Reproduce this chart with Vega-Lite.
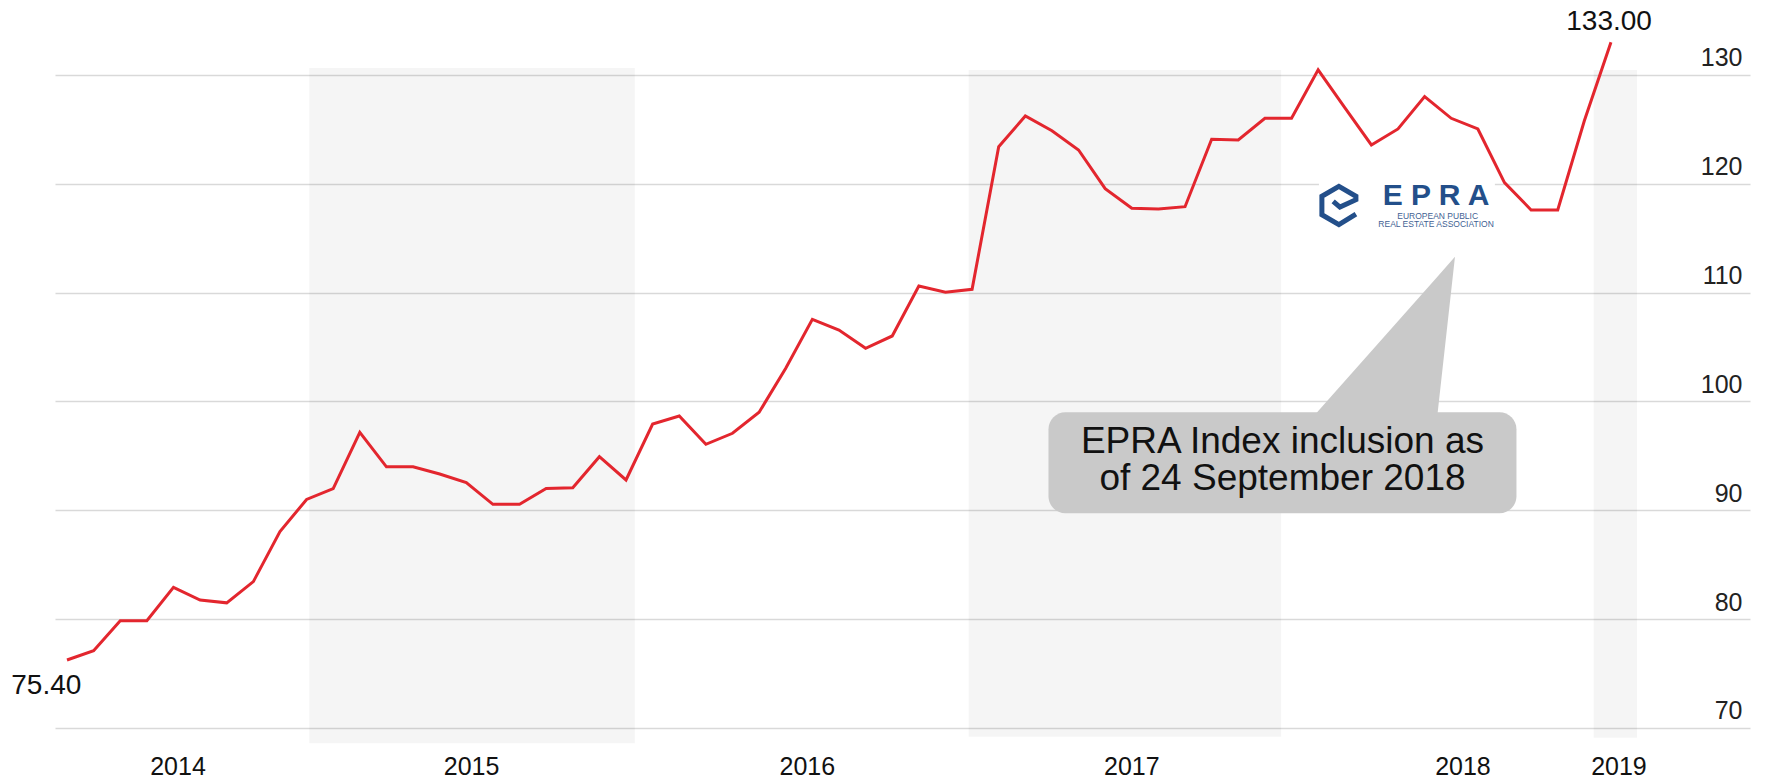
{
  "$schema": "https://vega.github.io/schema/vega-lite/v6.json",
  "width": 1695,
  "height": 745,
  "autosize": {"type": "none"},
  "padding": {"left": 55, "top": 0, "right": 15, "bottom": 36},
  "background": "white",
  "config": {
    "view": {"stroke": null},
    "text": {"font": "Liberation Sans"},
    "axis": {"labelFont": "Liberation Sans"}
  },
  "datasets": {
    "series": [
      {"i": 0, "v": 76.25}, {"i": 1, "v": 77.10}, {"i": 2, "v": 79.86}, {"i": 3, "v": 79.86},
      {"i": 4, "v": 82.93}, {"i": 5, "v": 81.76}, {"i": 6, "v": 81.50}, {"i": 7, "v": 83.45},
      {"i": 8, "v": 88.04}, {"i": 9, "v": 91.00}, {"i": 10, "v": 92.00}, {"i": 11, "v": 97.17},
      {"i": 12, "v": 94.00}, {"i": 13, "v": 94.00}, {"i": 14, "v": 93.34}, {"i": 15, "v": 92.54},
      {"i": 16, "v": 90.55}, {"i": 17, "v": 90.55}, {"i": 18, "v": 92.00}, {"i": 19, "v": 92.08},
      {"i": 20, "v": 94.93}, {"i": 21, "v": 92.79}, {"i": 22, "v": 97.93}, {"i": 23, "v": 98.67},
      {"i": 24, "v": 96.07}, {"i": 25, "v": 97.08}, {"i": 26, "v": 99.01}, {"i": 27, "v": 103.05},
      {"i": 28, "v": 107.55}, {"i": 29, "v": 106.57}, {"i": 30, "v": 104.89}, {"i": 31, "v": 106.02},
      {"i": 32, "v": 110.61}, {"i": 33, "v": 110.03}, {"i": 34, "v": 110.31}, {"i": 35, "v": 123.41},
      {"i": 36, "v": 126.23}, {"i": 37, "v": 124.88}, {"i": 38, "v": 123.11}, {"i": 39, "v": 119.56},
      {"i": 40, "v": 117.75}, {"i": 41, "v": 117.69}, {"i": 42, "v": 117.90}, {"i": 43, "v": 124.09},
      {"i": 44, "v": 124.03}, {"i": 45, "v": 126.02}, {"i": 46, "v": 126.02}, {"i": 47, "v": 130.48},
      {"i": 48, "v": 127.00}, {"i": 49, "v": 123.57}, {"i": 50, "v": 125.04}, {"i": 51, "v": 128.01},
      {"i": 52, "v": 126.02}, {"i": 53, "v": 125.04}, {"i": 54, "v": 120.11}, {"i": 55, "v": 117.60},
      {"i": 56, "v": 117.60}, {"i": 57, "v": 125.80}, {"i": 58, "v": 133.00}
    ],
    "bands": [
      {"i": 9.1, "i2": 21.33, "v": 130.64, "v2": 68.59},
      {"i": 33.87, "i2": 45.61, "v": 130.46, "v2": 69.2},
      {"i": 57.35, "i2": 58.98, "v": 130.46, "v2": 69.11}
    ],
    "logoBg": [{"i": 47.03, "i2": 53.64, "v": 120.72, "v2": 115.58}],
    "callBox": [{"i": 36.87, "i2": 54.45, "v": 99.01, "v2": 89.73}],
    "callPointer": [
      {"i": 46.87, "v": 98.76, "v2": 98.76},
      {"i": 51.48, "v": 111.47, "v2": 98.76},
      {"i": 52.14, "v": 113.31, "v2": 113.31}
    ],
    "callText": [
      {"i": 45.66, "v": 96.31, "text": "EPRA Index inclusion as\nof 24 September 2018"}
    ],
    "logoIcon": [{"i": 47.78, "v": 118.01}],
    "logoTitle": [{"i": 51.43, "v": 118.06, "text": "E P R A"}],
    "logoSub": [
      {"i": 51.49, "v": 116.77, "text": "EUROPEAN PUBLIC"},
      {"i": 51.43, "v": 116.0, "text": "REAL ESTATE ASSOCIATION"}
    ],
    "endLabels": [
      {"i": -0.778, "v": 73.86, "text": "75.40"},
      {"i": 57.93, "v": 134.87, "text": "133.00"}
    ],
    "years": [
      {"i": 4.17, "v": 66.42, "text": "2014"},
      {"i": 15.2, "v": 66.42, "text": "2015"},
      {"i": 27.81, "v": 66.42, "text": "2016"},
      {"i": 40.0, "v": 66.42, "text": "2017"},
      {"i": 52.44, "v": 66.42, "text": "2018"},
      {"i": 58.3, "v": 66.42, "text": "2019"}
    ]
  },
  "encoding": {
    "x": {"field": "i", "type": "quantitative", "scale": {"domain": [-0.4508, 63.223], "nice": false, "zero": false}, "axis": null},
    "y": {
      "field": "v", "type": "quantitative",
      "scale": {"domain": [68.438, 136.89], "nice": false, "zero": false},
      "axis": {
        "orient": "right", "title": null, "values": [70, 80, 90, 100, 110, 120, 130],
        "domain": false, "ticks": false, "tickSize": 0, "grid": true,
        "gridColor": "#d9d9d9", "gridWidth": 1.5,
        "labelAlign": "right", "labelBaseline": "middle", "labelPadding": -8, "labelOffset": -17,
        "labelFontSize": 25, "labelColor": "#222222"
      }
    }
  },
  "layer": [
    {
      "data": {"name": "bands"},
      "mark": {"type": "rect", "fill": "#000000", "fillOpacity": 0.04},
      "encoding": {"x2": {"field": "i2"}, "y2": {"field": "v2"}}
    },
    {
      "data": {"name": "logoBg"},
      "mark": {"type": "rect", "fill": "#ffffff"},
      "encoding": {"x2": {"field": "i2"}, "y2": {"field": "v2"}}
    },
    {
      "data": {"name": "callPointer"},
      "mark": {"type": "area", "fill": "#c9c9c9", "interpolate": "linear"},
      "encoding": {"y2": {"field": "v2"}}
    },
    {
      "data": {"name": "callBox"},
      "mark": {"type": "rect", "fill": "#c9c9c9", "cornerRadius": 17},
      "encoding": {"x2": {"field": "i2"}, "y2": {"field": "v2"}}
    },
    {
      "data": {"name": "callText"},
      "mark": {"type": "text", "fontSize": 37, "lineHeight": 37, "lineBreak": "\n", "align": "center", "baseline": "middle", "color": "#111111"},
      "encoding": {"text": {"field": "text"}}
    },
    {
      "data": {"name": "logoIcon"},
      "mark": {
        "type": "point",
        "shape": "M 0.83 0.42 L 0 0.93 L -0.83 0.45 L -0.83 -0.45 L 0 -0.93 L 0.83 -0.45 L 0.83 -0.28 L 0.05 0.08 L -0.28 -0.2",
        "size": 1681, "filled": false, "stroke": "#234f8a", "strokeWidth": 5, "strokeJoin": "miter", "opacity": 1
      }
    },
    {
      "data": {"name": "logoTitle"},
      "mark": {"type": "text", "fontSize": 30, "fontWeight": "bold", "align": "center", "baseline": "alphabetic", "color": "#234f8a"},
      "encoding": {"text": {"field": "text"}}
    },
    {
      "data": {"name": "logoSub"},
      "mark": {"type": "text", "fontSize": 8.5, "align": "center", "baseline": "alphabetic", "color": "#3f5f93"},
      "encoding": {"text": {"field": "text"}}
    },
    {
      "data": {"name": "series"},
      "mark": {"type": "line", "color": "#e3262e", "strokeWidth": 3, "strokeJoin": "miter"}
    },
    {
      "data": {"name": "endLabels"},
      "mark": {"type": "text", "fontSize": 28, "align": "center", "baseline": "middle", "color": "#111111"},
      "encoding": {"text": {"field": "text"}}
    },
    {
      "data": {"name": "years"},
      "mark": {"type": "text", "fontSize": 25, "align": "center", "baseline": "middle", "color": "#111111"},
      "encoding": {"text": {"field": "text"}}
    }
  ]
}
